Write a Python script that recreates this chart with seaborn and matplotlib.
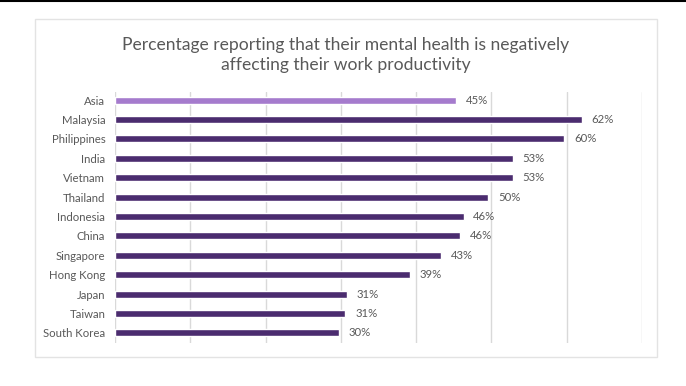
import matplotlib
matplotlib.use("Agg")
import matplotlib.pyplot as plt
import seaborn as sns
import pandas as pd
from matplotlib.patches import Rectangle
from matplotlib.lines import Line2D

categories = ["Asia", "Malaysia", "Philippines", "India", "Vietnam", "Thailand",
              "Indonesia", "China", "Singapore", "Hong Kong", "Japan", "Taiwan", "South Korea"]
values = [45.3, 62.0, 59.7, 52.8, 52.8, 49.6, 46.3, 45.8, 43.3, 39.2, 30.8, 30.6, 29.7]
labels = ["45%", "62%", "60%", "53%", "53%", "50%", "46%", "46%", "43%", "39%", "31%", "31%", "30%"]
groups = ["Asia"] + ["Country"] * 12
title = "Percentage reporting that their mental health is negatively\naffecting their work productivity"

df = pd.DataFrame({"category": categories, "value": values, "group": groups})

sns.set_theme(style="white")
plt.rcParams["font.family"] = ["Lato", "DejaVu Sans"]

fig = plt.figure(figsize=(6.86, 3.86), dpi=100)
ax = fig.add_axes([115/686, 1-343/386, (642-115)/686, (343-92)/386])

sns.barplot(data=df, y="category", x="value", hue="group", orient="h",
            palette={"Asia": "#A57BCD", "Country": "#4B2C6F"},
            width=0.36, dodge=False, legend=False, ax=ax, saturation=1)

ax.set_xlim(0, 70)
ax.set_ylim(12.52, -0.42)
ax.set_xticks(range(0, 71, 10))
ax.xaxis.grid(True, color="#D9D9D9", linewidth=1)
ax.set_axisbelow(True)
ax.tick_params(axis="x", labelbottom=False, length=0)
ax.tick_params(axis="y", length=0, pad=7, labelsize=8.2, labelcolor="#595959")
ax.set_xlabel("")
ax.set_ylabel("")
for s in ax.spines.values():
    s.set_visible(False)

for i, (v, lab) in enumerate(zip(values, labels)):
    ax.annotate(lab, xy=(v, i), xytext=(7, 0), textcoords="offset points",
                va="center", ha="left", fontsize=8.2, color="#595959")

fig.text(346/686, 1-55/386, title, ha="center", va="center", fontsize=12.6,
         color="#595959", linespacing=1.35)

fig.patches.append(Rectangle((35/686, 1-357/386), (657-35)/686, (357-19)/386,
                             transform=fig.transFigure, fill=False,
                             edgecolor="#E3E3E3", linewidth=1))
fig.lines.append(Line2D([0, 1], [1-0.8/386, 1-0.8/386], transform=fig.transFigure,
                        color="black", linewidth=1.5))

fig.savefig("out.png", dpi=100, facecolor="white")
